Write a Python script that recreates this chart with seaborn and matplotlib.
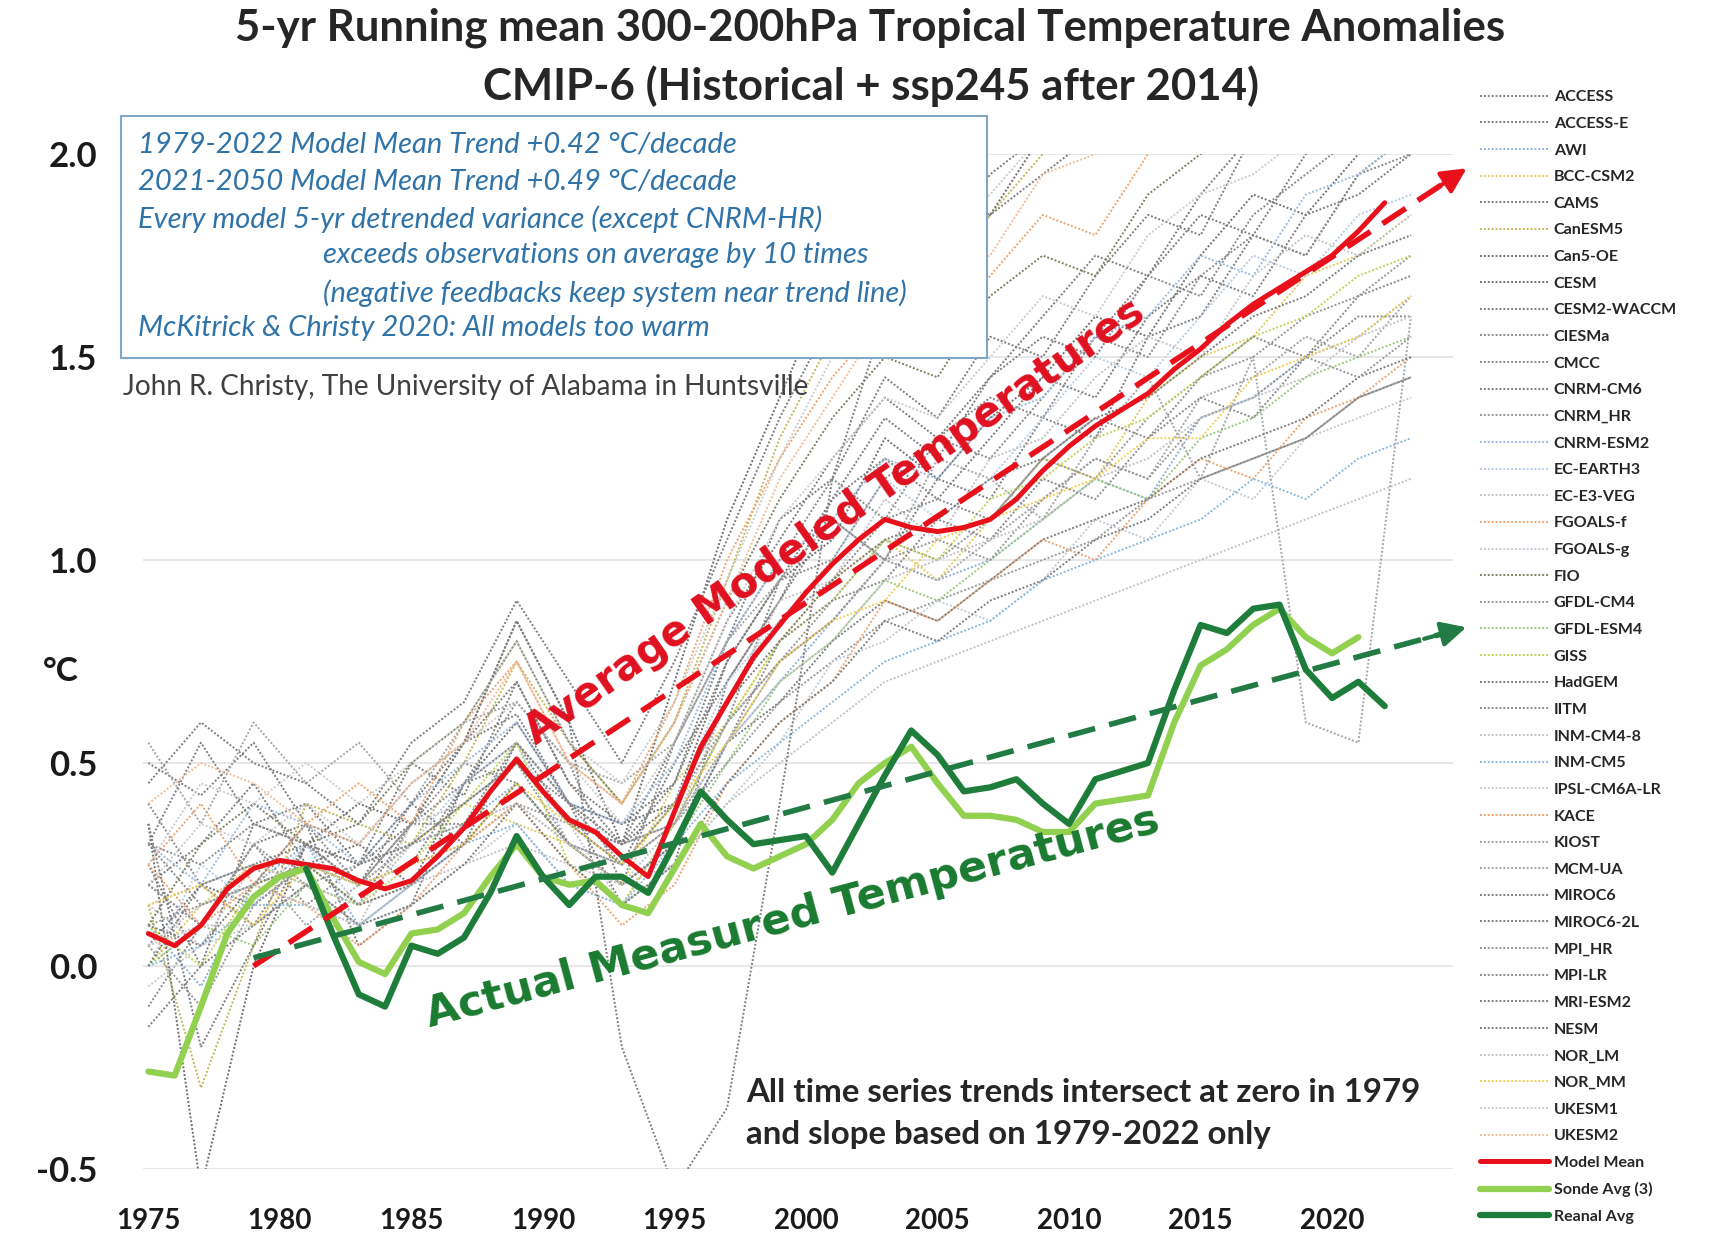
import numpy as np
import pandas as pd
import seaborn as sns
import matplotlib.pyplot as plt
from matplotlib.patches import Rectangle
from matplotlib.font_manager import FontProperties

# yearly series
years = list(range(1975, 2023))
model_mean = [0.08, 0.05, 0.10, 0.19, 0.24, 0.26, 0.25, 0.24, 0.21, 0.19,
              0.21, 0.27, 0.34, 0.43, 0.51, 0.43, 0.36, 0.33, 0.27, 0.22,
              0.38, 0.54, 0.65, 0.76, 0.84, 0.92, 0.99, 1.05, 1.10, 1.08,
              1.07, 1.08, 1.10, 1.15, 1.22, 1.28, 1.33, 1.37, 1.41, 1.47,
              1.52, 1.58, 1.63, 1.67, 1.71, 1.75, 1.81, 1.88]

sonde_years = list(range(1975, 2022))
sonde_avg = [-0.26, -0.27, -0.10, 0.08, 0.17, 0.22, 0.24, 0.12, 0.01, -0.02,
             0.08, 0.09, 0.13, 0.22, 0.30, 0.22, 0.20, 0.21, 0.15, 0.13,
             0.24, 0.35, 0.27, 0.24, 0.27, 0.30, 0.36, 0.45, 0.50, 0.54,
             0.45, 0.37, 0.37, 0.36, 0.33, 0.33, 0.40, 0.41, 0.42, 0.60,
             0.74, 0.78, 0.84, 0.88, 0.81, 0.77, 0.81]

reanal_years = list(range(1981, 2023))
reanal_avg = [0.24, 0.08, -0.07, -0.10, 0.05, 0.03, 0.07, 0.18, 0.32, 0.22,
              0.15, 0.22, 0.22, 0.18, 0.30, 0.43, 0.36, 0.30, 0.31, 0.32,
              0.23, 0.35, 0.47, 0.58, 0.52, 0.43, 0.44, 0.46, 0.40, 0.35,
              0.46, 0.48, 0.50, 0.68, 0.84, 0.82, 0.88, 0.89, 0.73, 0.66,
              0.70, 0.64]

# trend arrows (start, end)
model_trend_x = [1979.0, 2024.3]
model_trend_y = [0.0, 1.93]
obs_trend_x = [1979.0, 2024.3]
obs_trend_y = [0.02, 0.82]

# individual models, every second year
model_years = list(range(1975, 2024, 2))
model_names = ['ACCESS', 'ACCESS-E', 'AWI', 'BCC-CSM2', 'CAMS', 'CanESM5', 'Can5-OE',
               'CESM', 'CESM2-WACCM', 'CIESMa', 'CMCC', 'CNRM-CM6', 'CNRM_HR',
               'CNRM-ESM2', 'EC-EARTH3', 'EC-E3-VEG', 'FGOALS-f', 'FGOALS-g', 'FIO',
               'GFDL-CM4', 'GFDL-ESM4', 'GISS', 'HadGEM', 'IITM', 'INM-CM4-8',
               'INM-CM5', 'IPSL-CM6A-LR', 'KACE', 'KIOST', 'MCM-UA', 'MIROC6',
               'MIROC6-2L', 'MPI_HR', 'MPI-LR', 'MRI-ESM2', 'NESM', 'NOR_LM',
               'NOR_MM', 'UKESM1', 'UKESM2']
model_values = [
    [0.50, 0.42, 0.55, 0.35, 0.30, 0.45, 0.55, 0.62, 0.40, 0.30, 0.55, 0.85, 1.05, 1.25, 1.40, 1.30, 1.45, 1.60, 1.75, 1.70, 1.90, 2.05, 2.00, 2.15, 2.25],
    [0.30, 0.55, 0.35, 0.40, 0.25, 0.50, 0.42, 0.70, 0.45, 0.35, 0.45, 0.80, 1.10, 1.20, 1.45, 1.35, 1.55, 1.50, 1.70, 1.85, 1.80, 2.05, 2.10, 2.20, 2.30],
    [0.10, -0.05, 0.20, 0.30, 0.10, 0.20, 0.35, 0.45, 0.30, 0.20, 0.30, 0.55, 0.70, 0.85, 1.00, 0.95, 1.00, 1.10, 1.20, 1.15, 1.35, 1.40, 1.50, 1.55, 1.65],
    [0.00, 0.15, 0.25, 0.20, 0.15, 0.30, 0.40, 0.35, 0.30, 0.20, 0.45, 0.60, 0.80, 0.95, 1.05, 0.95, 1.10, 1.25, 1.20, 1.40, 1.50, 1.55, 1.70, 1.75, 1.85],
    [0.20, 0.10, 0.30, 0.35, 0.05, 0.15, 0.45, 0.55, 0.40, 0.15, 0.25, 0.70, 0.90, 1.10, 1.00, 1.20, 1.15, 1.35, 1.30, 1.55, 1.60, 1.80, 1.75, 1.95, 2.05],
    [0.15, -0.30, 0.05, 0.40, 0.35, 0.30, 0.50, 0.75, 0.55, 0.40, 0.60, 0.95, 1.30, 1.55, 1.70, 1.65, 1.85, 2.00, 2.10, 2.05, 2.20, 2.30, 2.40, 2.45, 2.50],
    [0.35, -0.55, 0.00, 0.30, 0.40, 0.35, 0.55, 0.85, 0.60, 0.30, 0.70, 1.10, 1.40, 1.70, 1.80, 1.90, 1.85, 2.05, 2.15, 2.20, 2.30, 2.35, 2.45, 2.50, 2.55],
    [0.05, 0.20, 0.15, 0.25, 0.30, 0.20, 0.45, 0.60, 0.40, 0.35, 0.40, 0.75, 0.95, 1.05, 1.30, 1.20, 1.35, 1.45, 1.60, 1.55, 1.75, 1.90, 1.85, 2.00, 2.10],
    [0.25, 0.00, 0.35, 0.30, 0.20, 0.40, 0.30, 0.55, 0.35, 0.25, 0.50, 0.70, 0.90, 1.15, 1.25, 1.15, 1.30, 1.45, 1.40, 1.60, 1.70, 1.65, 1.85, 1.90, 2.00],
    [-0.10, 0.10, 0.30, 0.15, 0.25, 0.35, 0.50, 0.45, 0.30, 0.25, 0.35, 0.60, 0.95, 1.00, 1.20, 1.30, 1.25, 1.40, 1.55, 1.50, 1.70, 1.80, 1.75, 1.95, 2.00],
    [0.40, 0.20, 0.10, 0.30, 0.20, 0.25, 0.45, 0.65, 0.50, 0.20, 0.55, 0.80, 1.00, 1.20, 1.10, 1.30, 1.40, 1.35, 1.55, 1.70, 1.65, 1.85, 1.95, 2.05, 2.10],
    [0.20, 0.30, 0.45, 0.25, 0.15, 0.35, 0.55, 0.70, 0.45, 0.30, 0.45, 0.75, 0.95, 1.15, 1.35, 1.25, 1.45, 1.55, 1.50, 1.70, 1.85, 1.80, 2.00, 2.05, 2.15],
    [0.10, 0.15, 0.20, 0.25, 0.20, 0.25, 0.30, 0.40, 0.35, 0.30, 0.35, 0.50, 0.65, 0.75, 0.85, 0.90, 0.95, 1.00, 1.05, 1.15, 1.20, 1.25, 1.30, 1.40, 1.45],
    [0.30, 0.20, 0.40, 0.35, 0.25, 0.40, 0.50, 0.60, 0.40, 0.35, 0.50, 0.80, 1.00, 1.10, 1.25, 1.20, 1.35, 1.40, 1.55, 1.60, 1.75, 1.70, 1.90, 1.95, 2.05],
    [0.00, 0.25, 0.15, 0.30, 0.15, 0.30, 0.45, 0.55, 0.30, 0.25, 0.40, 0.70, 0.85, 1.00, 1.20, 1.10, 1.20, 1.35, 1.50, 1.45, 1.60, 1.75, 1.70, 1.85, 1.90],
    [0.15, 0.05, 0.25, 0.20, 0.10, 0.35, 0.40, 0.50, 0.35, 0.15, 0.35, 0.65, 0.90, 0.95, 1.15, 1.05, 1.25, 1.30, 1.45, 1.55, 1.50, 1.70, 1.80, 1.75, 1.85],
    [0.25, 0.10, 0.20, 0.15, 0.05, 0.15, 0.30, 0.40, 0.25, 0.10, 0.20, 0.45, 0.60, 0.70, 0.90, 0.85, 0.95, 1.05, 1.00, 1.15, 1.25, 1.20, 1.35, 1.40, 1.50],
    [-0.05, 0.05, 0.10, 0.20, 0.10, 0.15, 0.25, 0.35, 0.20, 0.15, 0.25, 0.40, 0.55, 0.75, 0.80, 0.90, 0.85, 0.95, 1.10, 1.05, 1.20, 1.15, 1.30, 1.35, 1.40],
    [0.10, 0.30, 0.40, 0.30, 0.35, 0.50, 0.60, 0.80, 0.55, 0.40, 0.60, 0.90, 1.15, 1.35, 1.50, 1.45, 1.65, 1.75, 1.70, 1.90, 2.00, 2.05, 2.15, 2.20, 2.25],
    [0.05, -0.10, 0.15, 0.25, 0.20, 0.30, 0.35, 0.50, 0.30, 0.25, 0.35, 0.60, 0.75, 0.90, 1.05, 1.00, 1.10, 1.25, 1.20, 1.35, 1.45, 1.50, 1.60, 1.65, 1.75],
    [0.00, 0.10, 0.05, 0.20, 0.15, 0.20, 0.30, 0.45, 0.30, 0.20, 0.30, 0.50, 0.70, 0.80, 0.95, 0.90, 1.00, 1.10, 1.20, 1.15, 1.30, 1.35, 1.45, 1.50, 1.55],
    [0.10, 0.00, 0.20, 0.25, 0.15, 0.25, 0.40, 0.55, 0.25, 0.15, 0.35, 0.60, 0.80, 0.90, 1.05, 1.00, 1.15, 1.20, 1.30, 1.35, 1.45, 1.55, 1.60, 1.70, 1.75],
    [0.45, 0.60, 0.50, 0.45, 0.35, 0.55, 0.65, 0.90, 0.70, 0.50, 0.75, 1.05, 1.35, 1.60, 1.80, 1.75, 1.95, 2.05, 2.15, 2.20, 2.30, 2.40, 2.45, 2.50, 2.55],
    [0.30, 0.25, 0.35, 0.30, 0.20, 0.35, 0.45, 0.50, 0.40, 0.25, 0.40, 0.65, 0.85, 0.95, 1.10, 1.15, 1.10, 1.25, 1.35, 1.30, 1.45, 1.55, 1.50, 1.65, 1.70],
    [0.05, 0.10, 0.10, 0.20, 0.15, 0.20, 0.25, 0.30, 0.25, 0.20, 0.25, 0.40, 0.50, 0.60, 0.70, 0.75, 0.80, 0.85, 0.90, 0.95, 1.00, 1.05, 1.10, 1.15, 1.20],
    [0.00, 0.05, 0.15, 0.15, 0.10, 0.20, 0.30, 0.35, 0.20, 0.15, 0.30, 0.45, 0.55, 0.65, 0.75, 0.80, 0.85, 0.95, 1.00, 1.05, 1.10, 1.20, 1.15, 1.25, 1.30],
    [0.20, 0.35, 0.30, 0.40, 0.30, 0.45, 0.55, 0.65, 0.50, 0.35, 0.55, 0.85, 1.10, 1.25, 1.40, 1.35, 1.50, 1.65, 1.60, 1.80, 1.90, 1.95, 2.05, 2.10, 2.20],
    [0.25, 0.40, 0.20, 0.35, 0.45, 0.35, 0.60, 0.75, 0.50, 0.40, 0.65, 1.00, 1.25, 1.45, 1.60, 1.55, 1.70, 1.85, 1.80, 2.00, 2.10, 2.15, 2.25, 2.30, 2.35],
    [0.15, 0.20, 0.25, 0.10, 0.20, 0.30, 0.35, 0.40, 0.30, 0.20, 0.30, 0.55, 0.75, 0.85, 1.00, 0.95, 1.05, 1.15, 1.25, 1.20, 1.40, 1.45, 1.55, 1.50, 1.65],
    [0.55, 0.35, 0.60, 0.45, 0.55, 0.40, 0.60, 0.65, 0.50, 0.45, 0.55, 0.80, 0.95, 1.10, 1.00, 1.25, 1.20, 1.10, 1.30, 1.45, 1.20, 1.50, 0.60, 0.55, 1.60],
    [0.10, 0.05, 0.20, 0.25, 0.15, 0.20, 0.30, 0.45, 0.30, 0.20, 0.30, 0.55, 0.65, 0.80, 0.90, 0.85, 0.95, 1.05, 1.10, 1.15, 1.25, 1.30, 1.35, 1.45, 1.50],
    [-0.15, 0.00, 0.10, 0.20, 0.10, 0.15, 0.25, 0.40, 0.25, 0.15, 0.25, 0.45, 0.60, 0.70, 0.85, 0.80, 0.90, 0.95, 1.05, 1.10, 1.20, 1.25, 1.30, 1.40, 1.45],
    [0.20, 0.10, 0.30, 0.20, 0.25, 0.30, 0.40, 0.50, 0.35, 0.25, 0.40, 0.60, 0.75, 0.85, 1.00, 1.05, 1.00, 1.15, 1.25, 1.20, 1.35, 1.40, 1.50, 1.45, 1.55],
    [0.30, 0.15, 0.20, 0.35, 0.20, 0.35, 0.35, 0.55, 0.40, 0.30, 0.35, 0.55, 0.80, 0.90, 0.95, 1.10, 1.05, 1.20, 1.15, 1.30, 1.40, 1.35, 1.50, 1.60, 1.60],
    [0.00, 0.20, 0.25, 0.30, 0.25, 0.30, 0.40, 0.50, 0.35, 0.30, 0.40, 0.65, 0.80, 0.95, 1.05, 1.10, 1.20, 1.25, 1.35, 1.40, 1.50, 1.60, 1.65, 1.75, 1.80],
    [0.35, -0.20, 0.05, 0.30, 0.25, 0.40, 0.55, 0.85, 0.60, -0.20, -0.55, -0.35, 0.40, 1.20, 1.60, 1.70, 1.85, 1.95, 2.05, 2.10, 2.20, 2.25, 2.35, 2.40, 2.45],
    [0.05, 0.15, 0.20, 0.15, 0.10, 0.20, 0.35, 0.40, 0.30, 0.20, 0.35, 0.55, 0.70, 0.80, 0.95, 1.00, 1.05, 1.10, 1.20, 1.25, 1.35, 1.40, 1.45, 1.55, 1.60],
    [0.15, 0.20, 0.10, 0.25, 0.20, 0.25, 0.30, 0.45, 0.35, 0.25, 0.40, 0.55, 0.75, 0.85, 0.90, 1.05, 1.10, 1.15, 1.20, 1.30, 1.30, 1.45, 1.50, 1.55, 1.65],
    [0.25, 0.45, 0.40, 0.50, 0.40, 0.50, 0.60, 0.80, 0.55, 0.45, 0.65, 0.95, 1.25, 1.50, 1.70, 1.80, 1.90, 2.05, 2.10, 2.20, 2.25, 2.35, 2.40, 2.45, 2.50],
    [0.40, 0.50, 0.45, 0.35, 0.30, 0.45, 0.55, 0.75, 0.50, 0.40, 0.60, 0.90, 1.20, 1.40, 1.60, 1.70, 1.75, 1.95, 2.00, 2.10, 2.15, 2.25, 2.30, 2.40, 2.45],
]
model_colors = ['#7f7f7f', '#808080', '#8fb0dc', '#e0cc5a', '#7f7f7f', '#c2b85a', '#707070',
                '#737373', '#7f7f7f', '#8c8c8c', '#8c8c8c', '#7f7f7f', '#999999',
                '#9dbbe0', '#b9cde6', '#c4c4c4', '#f0a570', '#c4ccd6', '#7d8262',
                '#999999', '#9cc97e', '#c2d45a', '#7f7f7f', '#8c8c8c', '#c4c4c4',
                '#8fb8e0', '#cccccc', '#f0a570', '#a6a6a6', '#a6a6a6', '#7f7f7f',
                '#7f7f7f', '#999999', '#8c8c8c', '#7f7f7f', '#7f7f7f', '#c4c4c4',
                '#f5cf55', '#cccccc', '#f4bd9a']

sns.set_theme(style='white')
plt.rcParams['font.family'] = ['Lato', 'DejaVu Sans']

fig = plt.figure(figsize=(17.26, 12.34), dpi=100)
ax = fig.add_axes([0.0829, 0.0527, 0.759, 0.8225])

for name, vals, c in zip(model_names, model_values, model_colors):
    sns.lineplot(x=model_years, y=vals, ax=ax, color=c, linewidth=1.4,
                 linestyle=(0, (1, 1)), label=name, errorbar=None, sort=False)

sns.lineplot(x=years, y=model_mean, ax=ax, color='#e8101a', linewidth=3.6,
             label='Model Mean', errorbar=None, sort=False)
sns.lineplot(x=sonde_years, y=sonde_avg, ax=ax, color='#92d050', linewidth=4.5,
             label='Sonde Avg (3)', errorbar=None, sort=False)
sns.lineplot(x=reanal_years, y=reanal_avg, ax=ax, color='#1e7d3a', linewidth=4.5,
             label='Reanal Avg', errorbar=None, sort=False)

handles, labels = ax.get_legend_handles_labels()

# dashed trend arrows
ax.plot(model_trend_x, model_trend_y, color='#e8101a', lw=4, dashes=(5, 2.6))
ax.plot(obs_trend_x, obs_trend_y, color='#227a45', lw=4, dashes=(5, 2.6))
for tx, ty, c in [(model_trend_x, model_trend_y, '#e8101a'), (obs_trend_x, obs_trend_y, '#227a45')]:
    dx = (tx[1] - tx[0]) * 0.02
    dy = (ty[1] - ty[0]) * 0.02
    ax.annotate('', xy=(tx[1] + dx, ty[1] + dy), xytext=(tx[1] - dx, ty[1] - dy),
                arrowprops=dict(arrowstyle='-|>', color=c, lw=3, mutation_scale=38),
                annotation_clip=False)

ax.set_xlim(1974.8, 2024.6)
ax.set_ylim(-0.5, 2.0)
ax.set_xticks(range(1975, 2021, 5))
ax.set_yticks([-0.5, 0.0, 0.5, 1.0, 1.5, 2.0])
ax.set_yticklabels(['-0.5', '0.0', '0.5', '1.0', '1.5', '2.0'])
ax.tick_params(axis='y', length=0, pad=33, labelsize=25)
ax.tick_params(axis='x', length=0, pad=28, labelsize=20)
for lab in ax.get_xticklabels() + ax.get_yticklabels():
    lab.set_fontweight('bold')
    lab.set_color('#1a1a1a')
ax.grid(axis='y', color='#e3e3e3', lw=1.2)
ax.grid(axis='x', visible=False)
for s in ax.spines.values():
    s.set_visible(False)
ax.set_xlabel('')
ax.set_ylabel('')

ax.legend(handles, labels, loc='upper left', bbox_to_anchor=(0.8576, 0.927),
          bbox_transform=fig.transFigure, frameon=False,
          prop=FontProperties(family='Lato', weight='bold', size=11.5),
          handlelength=4.3, handletextpad=0.3, labelspacing=0.78,
          borderpad=0, borderaxespad=0)

# big rotated labels
ax.text(2001.1, 1.095, 'Average Modeled Temperatures', color='#e01020',
        family='DejaVu Sans', fontweight='bold', fontsize=30, rotation=35,
        rotation_mode='anchor', ha='center', va='center')
ax.text(1999.5, 0.12, 'Actual Measured Temperatures', color='#1a7a30',
        family='DejaVu Sans', fontweight='bold', fontsize=31, rotation=15,
        rotation_mode='anchor', ha='center', va='center')

# title
fig.text(0.504, 0.9777, '5-yr Running mean 300-200hPa Tropical Temperature Anomalies',
         ha='center', va='center', fontsize=31.5, fontweight='bold', color='#262626')
fig.text(0.5045, 0.930, 'CMIP-6 (Historical + ssp245 after 2014)',
         ha='center', va='center', fontsize=31.5, fontweight='bold', color='#262626')
fig.text(0.035, 0.456, '°C', ha='center', va='center', fontsize=24,
         fontweight='bold', color='#1a1a1a')

# info box
fig.patches.append(Rectangle((0.0701, 0.7099), 0.5017, 0.1961, transform=fig.transFigure,
                             facecolor='white', edgecolor='#7fa8c8', lw=1.5, zorder=5))
box_lines = [
    (0.0797, 0.8831, '1979-2022 Model Mean Trend +0.42 °C/decade'),
    (0.0797, 0.8528, '2021-2050 Model Mean Trend +0.49 °C/decade'),
    (0.0797, 0.8225, 'Every model 5-yr detrended variance (except CNRM-HR)'),
    (0.1869, 0.7930, 'exceeds observations on average by 10 times'),
    (0.1869, 0.7627, '(negative feedbacks keep system near trend line)'),
    (0.0797, 0.7342, 'McKitrick & Christy 2020: All models too warm'),
]
for bx, by, t in box_lines:
    fig.text(bx, by, t, ha='left', va='center', fontsize=21, style='italic',
             color='#2f73a8', zorder=6)

fig.text(0.0713, 0.686, 'John R. Christy, The University of Alabama in Huntsville',
         ha='left', va='center', fontsize=20.2, color='#404040')
fig.text(0.4324, 0.115, 'All time series trends intersect at zero in 1979',
         ha='left', va='center', fontsize=23.8, fontweight='bold', color='#262626')
fig.text(0.4324, 0.081, 'and slope based on 1979-2022 only',
         ha='left', va='center', fontsize=23.8, fontweight='bold', color='#262626')

fig.savefig('out.png', dpi=100)
